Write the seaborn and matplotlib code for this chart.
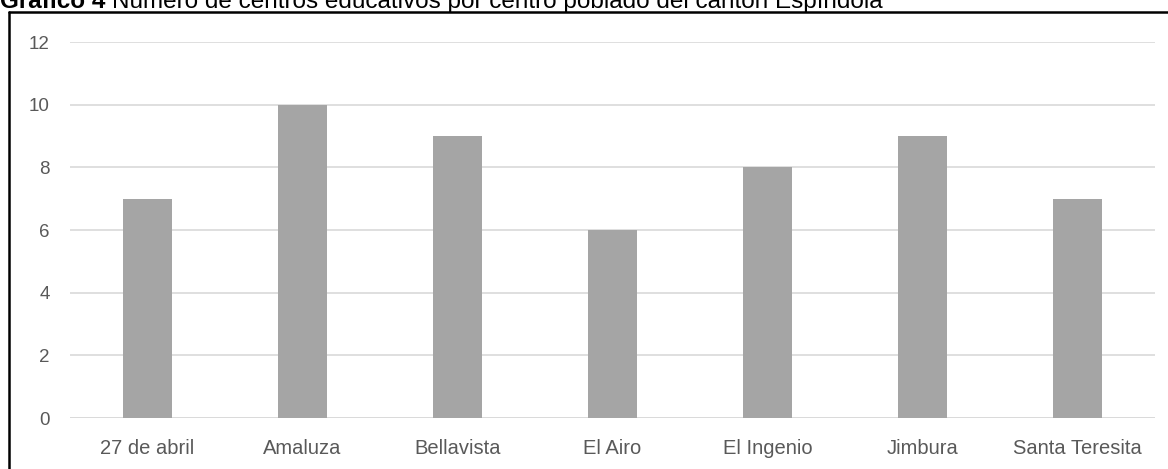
import matplotlib
matplotlib.use("Agg")
import matplotlib.pyplot as plt
import seaborn as sns
import pandas as pd
from matplotlib.lines import Line2D

# Data
centros = ["27 de abril", "Amaluza", "Bellavista", "El Airo", "El Ingenio", "Jimbura", "Santa Teresita"]
num_centros = [7, 10, 9, 6, 8, 9, 7]
y_ticks = [0, 2, 4, 6, 8, 10, 12]

df = pd.DataFrame({"centro": centros, "n": num_centros})

sns.set_style("white")
plt.rcParams["font.family"] = ["Liberation Sans", "DejaVu Sans"]

W, H = 1168, 469
fig = plt.figure(figsize=(W / 100, H / 100), dpi=100)
ax = fig.add_axes([70 / W, 1 - 418 / H, (1155 - 70) / W, (418 - 42) / H])

sns.barplot(data=df, x="centro", y="n", color="#A5A5A5", width=0.31,
            saturation=1, linewidth=0, edgecolor="none", ax=ax, zorder=3)

ax.set_ylim(0, 12)
ax.set_yticks(y_ticks)
ax.yaxis.grid(True, color="#D9D9D9", linewidth=1.2, zorder=0)
ax.set_axisbelow(True)
for s in ax.spines.values():
    s.set_visible(False)
ax.axhline(0, color="#D9D9D9", linewidth=1.2, zorder=1)
ax.set_xlabel("")
ax.set_ylabel("")
ax.tick_params(axis="both", length=0, labelcolor="#595959")
ax.tick_params(axis="y", pad=14.5, labelsize=13.5)
ax.tick_params(axis="x", pad=15, labelsize=14.5)

# Frame around the chart
lw = 1.8
fig.add_artist(Line2D([9 / W, 9 / W], [0, 1 - 12 / H], color="black", linewidth=lw))
fig.add_artist(Line2D([9 / W, 1], [1 - 12 / H, 1 - 12 / H], color="black", linewidth=lw))

# Title (partially cut at the top, as in the original)
ty = 1 - 8 / H
t1 = fig.text(0.0, ty, "Gráfico 4", fontsize=17.5, fontweight="bold",
              color="black", va="baseline", ha="left")
fig.canvas.draw()
bb = t1.get_window_extent()
fig.text(bb.x1 / W + 7 / W, ty,
         "Número de centros educativos por centro poblado del cantón Espíndola",
         fontsize=17.5, color="black", va="baseline", ha="left")

fig.savefig("out.png", dpi=100)
plt.close(fig)
